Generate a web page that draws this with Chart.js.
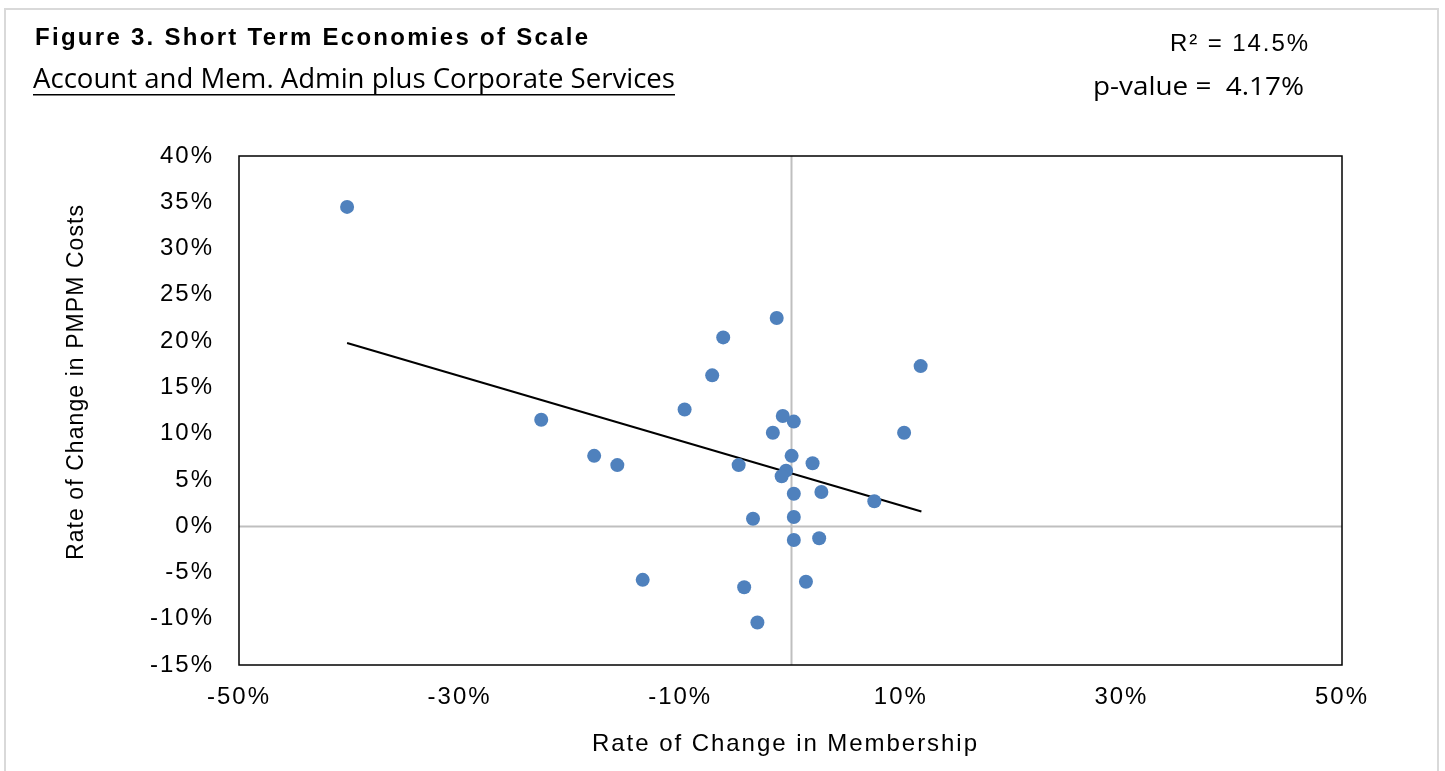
<!DOCTYPE html>
<html>
<head>
<meta charset="utf-8">
<script src="https://cdn.jsdelivr.net/npm/chart.js@4.4.1/dist/chart.umd.min.js"></script>
<style>
  html, body { margin: 0; padding: 0; background: #fff; }
  #wrap { width: 1445px; height: 771px; position: relative; }
</style>
</head>
<body>
<div id="wrap"><canvas id="chart" width="1445" height="771"></canvas></div>
<script>
// membership change (x) and PMPM cost change (y), in %
const memberChange = [-40.2, -22.6, -17.8, -15.7, -13.4, -9.6, -7.1, -6.1, -4.7, -4.2,
  -3.4, -3.0, -1.6, -1.25, -0.7, -0.4, -0.8, 0.3, 0.1, 0.3,
  0.3, 0.3, 1.4, 2.0, 2.6, 2.8, 7.6, 10.3, 11.8];
const costChange = [34.5, 11.5, 7.6, 6.6, -5.8, 12.6, 16.3, 20.4, 6.6, -6.6,
  0.8, -10.4, 10.1, 22.5, 11.9, 6.0, 5.4, 11.3, 7.6, 3.5,
  1.0, -1.5, -6.0, 6.8, -1.3, 3.7, 2.7, 10.1, 17.3];

// trend line end points
const trendX = [-40.2, 11.87];
const trendY = [19.8, 1.58];

const xTicks = [-50, -30, -10, 10, 30, 50];
const yTicks = [-15, -10, -5, 0, 5, 10, 15, 20, 25, 30, 35, 40];

const figTitle = 'Figure 3. Short Term Economies of Scale';
const subTitle = 'Account and Mem. Admin plus Corporate Services';
const rSquared = 'R\u00b2 = 14.5%';
const pValue = 'p-value =  4.17%';
const xTitle = 'Rate of Change in Membership';
const yTitle = 'Rate of Change in PMPM Costs';

const points = memberChange.map((x, i) => ({ x: x, y: costChange[i] }));
const trend = trendX.map((x, i) => ({ x: x, y: trendY[i] }));

const ARIAL = '"Liberation Sans", Arial, sans-serif';

// squeeze text to a given width
function squeezeText(ctx, text, x, y, width, font) {
  ctx.save();
  ctx.font = font;
  ctx.letterSpacing = '0px';
  const w = ctx.measureText(text).width;
  ctx.translate(x, y);
  ctx.scale(width / w, 1);
  ctx.fillText(text, 0, 0);
  ctx.restore();
}

// spread text with letter spacing to a given width
function spreadText(ctx, text, x, y, width, font) {
  ctx.save();
  ctx.font = font;
  ctx.letterSpacing = '0px';
  const w = ctx.measureText(text).width;
  ctx.letterSpacing = ((width - w) / (text.length - 1)) + 'px';
  ctx.fillText(text, x, y);
  ctx.restore();
}

const decor = {
  id: 'decor',
  beforeDraw(chart) {
    // Excel-like wide letter spacing on axis text
    chart.ctx.letterSpacing = '2px';
  },
  beforeDatasetsDraw(chart) {
    const ctx = chart.ctx;
    const a = chart.chartArea;
    const x0 = Math.round(chart.scales.x.getPixelForValue(0)) + 0.5;
    const y0 = Math.round(chart.scales.y.getPixelForValue(0)) + 0.5;
    ctx.save();
    ctx.strokeStyle = '#bfbfbf';
    ctx.lineWidth = 2;
    ctx.beginPath();
    ctx.moveTo(x0, a.top); ctx.lineTo(x0, a.bottom);
    ctx.moveTo(a.left, y0); ctx.lineTo(a.right, y0);
    ctx.stroke();
    ctx.restore();
  },
  afterDraw(chart) {
    const ctx = chart.ctx;
    const a = chart.chartArea;
    ctx.save();
    ctx.letterSpacing = '0px';
    // plot frame
    ctx.strokeStyle = '#000';
    ctx.lineWidth = 1.5;
    ctx.strokeRect(a.left, a.top, a.right - a.left, a.bottom - a.top);
    // outer border
    ctx.strokeStyle = '#d9d9d9';
    ctx.lineWidth = 2;
    ctx.strokeRect(5, 9, 1433, 770);

    ctx.fillStyle = '#000';
    ctx.textBaseline = 'alphabetic';
    spreadText(ctx, figTitle, 35, 45, 553, 'bold 24px ' + ARIAL);
    squeezeText(ctx, subTitle, 33, 88, 642, '27px "Open Sans", sans-serif');
    ctx.fillRect(33, 94, 642, 1.5);
    spreadText(ctx, rSquared, 1170, 51, 138, '24px ' + ARIAL);
    squeezeText(ctx, pValue, 1093, 95, 211, '26px "Open Sans", sans-serif');

    // axis titles
    spreadText(ctx, xTitle, 592, 751, 385, '24px ' + ARIAL);
    ctx.save();
    ctx.translate(83, 560);
    ctx.rotate(-Math.PI / 2);
    spreadText(ctx, yTitle, 0, 0, 355, '23px ' + ARIAL);
    ctx.restore();
    ctx.restore();
  }
};

new Chart(document.getElementById('chart'), {
  type: 'scatter',
  data: {
    datasets: [
      {
        label: 'Trend',
        data: trend,
        showLine: true,
        borderColor: '#000',
        borderWidth: 2,
        pointRadius: 0,
        fill: false,
        order: 1
      },
      {
        label: 'Plans',
        data: points,
        backgroundColor: '#4f81bd',
        borderColor: '#4f81bd',
        borderWidth: 0,
        pointRadius: 7,
        pointHoverRadius: 7,
        order: 0
      }
    ]
  },
  options: {
    responsive: false,
    animation: false,
    events: [],
    layout: { padding: { top: 156, left: 50, right: 103, bottom: 0 } },
    plugins: { legend: { display: false }, title: { display: false }, tooltip: { enabled: false } },
    scales: {
      x: {
        type: 'linear',
        min: -50,
        max: 50,
        afterBuildTicks: s => { s.ticks = xTicks.map(v => ({ value: v })); },
        afterFit: s => { s.height = 106; },
        grid: { display: false, drawTicks: false },
        border: { display: false },
        ticks: {
          padding: 18,
          color: '#000',
          maxRotation: 0,
          font: { family: ARIAL, size: 24 },
          callback: v => v + '%'
        },
        title: { display: false }
      },
      y: {
        type: 'linear',
        min: -15,
        max: 40,
        afterBuildTicks: s => { s.ticks = yTicks.map(v => ({ value: v })); },
        afterFit: s => { s.width = 189; },
        grid: { display: false, drawTicks: false },
        border: { display: false },
        ticks: {
          padding: 25,
          color: '#000',
          font: { family: ARIAL, size: 24 },
          callback: v => v + '%'
        },
        title: { display: false }
      }
    }
  },
  plugins: [decor]
});
</script>
</body>
</html>
